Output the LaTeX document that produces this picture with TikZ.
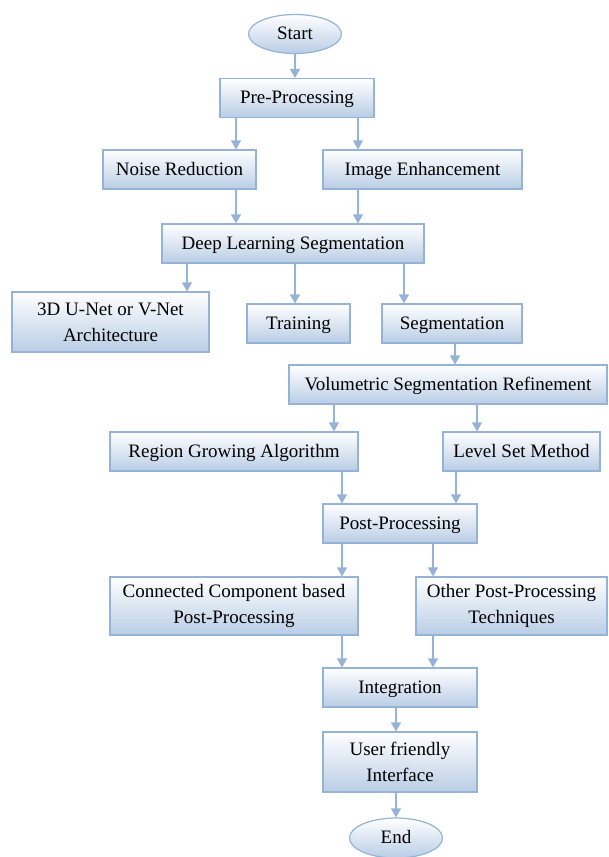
\documentclass[tikz,border=0pt]{standalone}
\usepackage{fontspec}
\setmainfont{Liberation Serif}
\usetikzlibrary{arrows.meta,shapes.geometric}

\definecolor{boxline}{HTML}{95B3D7}
\definecolor{boxfill}{HTML}{B9CDE5}

\tikzset{
	base/.style={draw=boxline, line width=1.2pt, top color=white, bottom color=boxfill,
		inner sep=2pt, align=center, font=\fontsize{19}{26}\selectfont},
	box/.style={base, rectangle, minimum height=39pt, text height=13pt, text depth=2pt},
	tallbox/.style={base, rectangle, minimum height=59pt},
	oval/.style={base, ellipse, minimum width=93pt, minimum height=39pt, text height=13pt, text depth=2pt},
	arr/.style={draw=boxline, line width=1.2pt, -{Triangle[length=9pt,width=10pt]}}
}

\begin{document}
\begin{tikzpicture}[x=1pt,y=-1pt]
		
		\useasboundingbox (0,0) rectangle (608,857);
		
		\node [oval] (start) at (295,34) {Start};
		\node [box, minimum width=154pt] (pre) at (297,98) {Pre-Processing};
		\node [box, minimum width=153pt] (noise) at (179.5,169.5) {Noise Reduction};
		\node [box, minimum width=199pt] (enh) at (422.5,169.5) {Image Enhancement};
		\node [box, minimum width=262pt] (deep) at (293,243.5) {Deep Learning Segmentation};
		
		\node [tallbox, minimum width=197pt, minimum height=60pt] (unet) at (110.5,322) {3D U-Net or V-Net\\Architecture};
		\node [box, minimum width=103pt] (train) at (298.5,323.5) {Training};
		\node [box, minimum width=140pt] (seg) at (452,323.5) {Segmentation};
		
		\node [box, minimum width=318pt] (vol) at (448,384.5) {Volumetric Segmentation Refinement};
		\node [box, minimum width=248pt] (region) at (234,451.5) {Region Growing Algorithm};
		\node [box, minimum width=157pt] (level) at (521.5,451.5) {Level Set Method};
		\node [box, minimum width=154pt] (post) at (400,523.5) {Post-Processing};
		
		\node [tallbox, minimum width=248pt, minimum height=58pt] (conn) at (234,606) {Connected Component based\\Post-Processing};
		\node [tallbox, minimum width=191pt, minimum height=58pt] (other) at (511.5,606) {Other Post-Processing\\Techniques};
		\node [box, minimum width=154pt] (integ) at (400,687.5) {Integration};
		\node [tallbox, minimum width=154pt, minimum height=60pt] (user) at (400,762) {User friendly\\Interface};
		\node [oval, minimum height=40pt] (end) at (396,838) {End};
		
		% connectors, x of each arrow given
		\foreach \a/\b/\x in {start/pre/295, pre/noise/236, pre/enh/358, noise/deep/236, enh/deep/358,
			deep/unet/187, deep/train/295, deep/seg/404, seg/vol/455, vol/region/334, vol/level/477,
			region/post/342, level/post/456, post/conn/342, post/other/433, conn/integ/342, other/integ/433,
			integ/user/396, user/end/396}
			\draw [arr] (\x,0 |- \a.south) -- (\x,0 |- \b.north);
		
	\end{tikzpicture}
\end{document}
